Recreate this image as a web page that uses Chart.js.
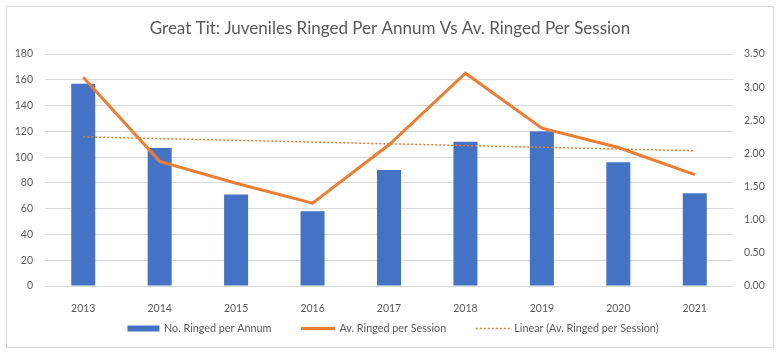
<!DOCTYPE html>
<html>
<head>
<meta charset="utf-8">
<script src="https://cdn.jsdelivr.net/npm/chart.js@4"></script>
<style>
  html, body { margin: 0; padding: 0; background: #fff; }
  #wrap { position: relative; width: 780px; height: 357px; }
  #frame { position: absolute; left: 6px; top: 6px; width: 766px; height: 340px; border: 1px solid #d9d9d9; pointer-events: none; }
</style>
</head>
<body>
<div id="wrap">
  <canvas id="c" width="780" height="357"></canvas>
  <div id="frame"></div>
</div>
<script>
const titleText = 'Great Tit: Juveniles Ringed Per Annum Vs Av. Ringed Per Session';
const years = ['2013', '2014', '2015', '2016', '2017', '2018', '2019', '2020', '2021'];
const ringedPerAnnum = [157, 107, 71, 58, 90, 112, 120, 96, 72];
const avPerSession = [3.15, 1.88, 1.55, 1.25, 2.13, 3.21, 2.38, 2.09, 1.68];
// Excel linear trendline, end points (drawn as a straight segment)
const trendStart = 2.25;
const trendEnd = 2.04;
const leftTicks = [0, 20, 40, 60, 80, 100, 120, 140, 160, 180];
const rightTicks = [0, 0.5, 1, 1.5, 2, 2.5, 3, 3.5];

const trendData = years.map((_, i) => i === 0 ? trendStart : (i === years.length - 1 ? trendEnd : null));

const FONT = 'Lato, "Liberation Sans", sans-serif';
const GREY = '#595959';
const AREA = { left: 45, right: 733, top: 54, bottom: 286 };

Chart.defaults.font.family = FONT;
Chart.defaults.color = GREY;

// Excel-like legend drawn from the chart's datasets
const excelLegend = {
  id: 'excelLegend',
  afterDraw(chart) {
    const ctx = chart.ctx;
    const fontSize = 10.8;
    const markerW = [32, 34, 34];
    const gapMarkerText = 4.5;
    const gapItems = 29.5;
    const cy = 328.5;
    ctx.save();
    ctx.font = fontSize + 'px ' + FONT;
    const items = chart.data.datasets.map((ds, i) => ({
      ds, w: markerW[i], tw: ctx.measureText(ds.label).width
    }));
    const total = items.reduce((s, it) => s + it.w + gapMarkerText + it.tw, 0) + gapItems * (items.length - 1);
    let x = 393 - total / 2;
    items.forEach(it => {
      const ds = it.ds;
      if (ds.type === 'bar') {
        ctx.fillStyle = ds.backgroundColor;
        ctx.fillRect(x, cy - 3, it.w, 6);
      } else {
        ctx.strokeStyle = ds.borderColor;
        ctx.lineWidth = ds.borderWidth;
        ctx.setLineDash(ds.borderDash || []);
        ctx.beginPath();
        ctx.moveTo(x, cy);
        ctx.lineTo(x + it.w, cy);
        ctx.stroke();
        ctx.setLineDash([]);
      }
      ctx.fillStyle = GREY;
      ctx.textBaseline = 'middle';
      ctx.textAlign = 'left';
      ctx.fillText(ds.label, x + it.w + gapMarkerText, cy);
      x += it.w + gapMarkerText + it.tw + gapItems;
    });
    ctx.restore();
  }
};

new Chart(document.getElementById('c'), {
  data: {
    labels: years,
    datasets: [
      {
        type: 'bar', label: 'No. Ringed per Annum', data: ringedPerAnnum,
        backgroundColor: '#4472C4', yAxisID: 'y', order: 3,
        barPercentage: 0.314, categoryPercentage: 1
      },
      {
        type: 'line', label: 'Av. Ringed per Session', data: avPerSession,
        borderColor: '#ED7D31', backgroundColor: '#ED7D31', borderWidth: 3,
        pointRadius: 0, yAxisID: 'y1', order: 1, tension: 0
      },
      {
        type: 'line', label: 'Linear (Av. Ringed per Session)', data: trendData,
        borderColor: '#ED7D31', backgroundColor: '#ED7D31', borderWidth: 1.5,
        borderDash: [2, 2], pointRadius: 0, spanGaps: true, yAxisID: 'y1', order: 2
      }
    ]
  },
  plugins: [excelLegend],
  options: {
    responsive: false,
    animation: false,
    layout: { padding: 0 },
    plugins: {
      tooltip: { enabled: false },
      legend: { display: false },
      title: {
        display: true, text: titleText, color: GREY,
        font: { size: 17, weight: 'normal', family: FONT },
        padding: { top: 18, bottom: 15.6 }
      }
    },
    scales: {
      x: {
        grid: { display: false },
        border: { display: false },
        afterFit(s) { s.height = 357 - AREA.bottom; },
        ticks: { color: GREY, font: { size: 10.5 }, padding: 8, maxRotation: 0, autoSkip: false }
      },
      y: {
        position: 'left', min: 0, max: 180,
        afterBuildTicks(s) { s.ticks = leftTicks.map(v => ({ value: v })); },
        afterFit(s) { s.width = AREA.left; },
        grid: { color: '#d9d9d9', lineWidth: 1, drawTicks: false },
        border: { display: false },
        ticks: { color: GREY, font: { size: 10.5 }, padding: 12 }
      },
      y1: {
        position: 'right', min: 0, max: 3.5,
        afterBuildTicks(s) { s.ticks = rightTicks.map(v => ({ value: v })); },
        afterFit(s) { s.width = 780 - AREA.right; },
        grid: { display: false, drawTicks: false },
        border: { display: false },
        ticks: { color: GREY, font: { size: 10.5 }, padding: 11, callback: v => Number(v).toFixed(2) }
      }
    }
  }
});
</script>
</body>
</html>
